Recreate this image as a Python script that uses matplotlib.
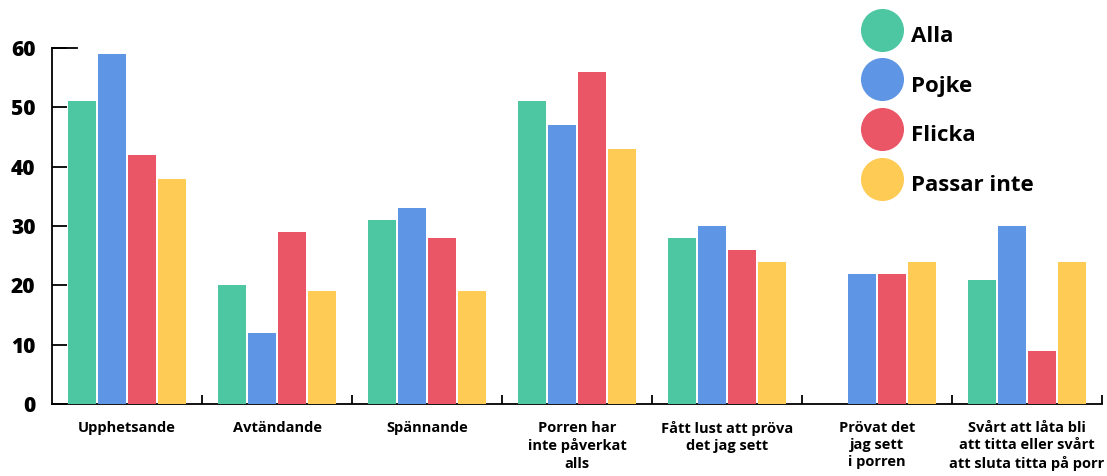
import numpy as np
import matplotlib
matplotlib.use("Agg")
import matplotlib.pyplot as plt
from matplotlib.lines import Line2D

plt.rcParams['font.family'] = ['Open Sans', 'DejaVu Sans']

# data
categories = ['Upphetsande', 'Avtändande', 'Spännande', 'Porren har\ninte påverkat\nalls',
              'Fått lust att pröva\ndet jag sett', 'Prövat det\njag sett\ni porren',
              'Svårt att låta bli\natt titta eller svårt\natt sluta titta på porr']
series = ['Alla', 'Pojke', 'Flicka', 'Passar inte']
alla = [51, 20, 31, 51, 28, np.nan, 21]
pojke = [59, 12, 33, 47, 30, 22, 30]
flicka = [42, 29, 28, 56, 26, 22, 9]
passar_inte = [38, 19, 19, 43, 24, 24, 24]
yticks = [0, 10, 20, 30, 40, 50, 60]

colors = ['#4DC7A2', '#5E95E4', '#EA5666', '#FECB55']

fig = plt.figure(figsize=(11.07, 4.76), dpi=100)
ax = fig.add_axes([0.047, 0.151, 0.9485, 0.748])

x = np.arange(len(categories))
w = 0.185
step = 0.2
for i, (vals, col) in enumerate(zip([alla, pojke, flicka, passar_inte], colors)):
    ax.bar(x + (i - 1.5) * step, vals, width=w, color=col, label=series[i], zorder=3)

ax.set_xlim(-0.5, len(categories) - 0.5)
ax.set_ylim(0, 60)
ax.set_yticks(yticks)
ax.set_yticklabels([str(t) for t in yticks], fontsize=15, fontweight='heavy')
ax.set_xticks(x)
ax.set_xticklabels(categories, fontsize=10.5, fontweight='bold', linespacing=1.3)
ax.set_xticks(np.arange(len(categories)) + 0.5, minor=True)

ax.tick_params(axis='x', which='major', length=0, pad=12)
ax.tick_params(axis='x', which='minor', direction='in', length=6.5, width=1.3)
ax.tick_params(axis='y', direction='in', length=11, width=1.3, pad=12)

for s in ['top', 'right']:
    ax.spines[s].set_visible(False)
for s in ['left', 'bottom']:
    ax.spines[s].set_linewidth(1.3)

# longer tick at the top of the y axis
ax.plot([0, 0.024], [1, 1], transform=ax.transAxes, color='black', lw=1.3, clip_on=False, zorder=4)

handles = [Line2D([], [], marker='o', ls='', markersize=31, color=c, markeredgewidth=0) for c in colors]
leg = fig.legend(handles, series, loc='upper left', bbox_to_anchor=(0.765, 1.005),
                 frameon=False, prop={'size': 16, 'weight': 'bold'},
                 handlelength=1.4, handleheight=2.0, labelspacing=0.69, handletextpad=0.6)

fig.savefig('out.png', dpi=100)
